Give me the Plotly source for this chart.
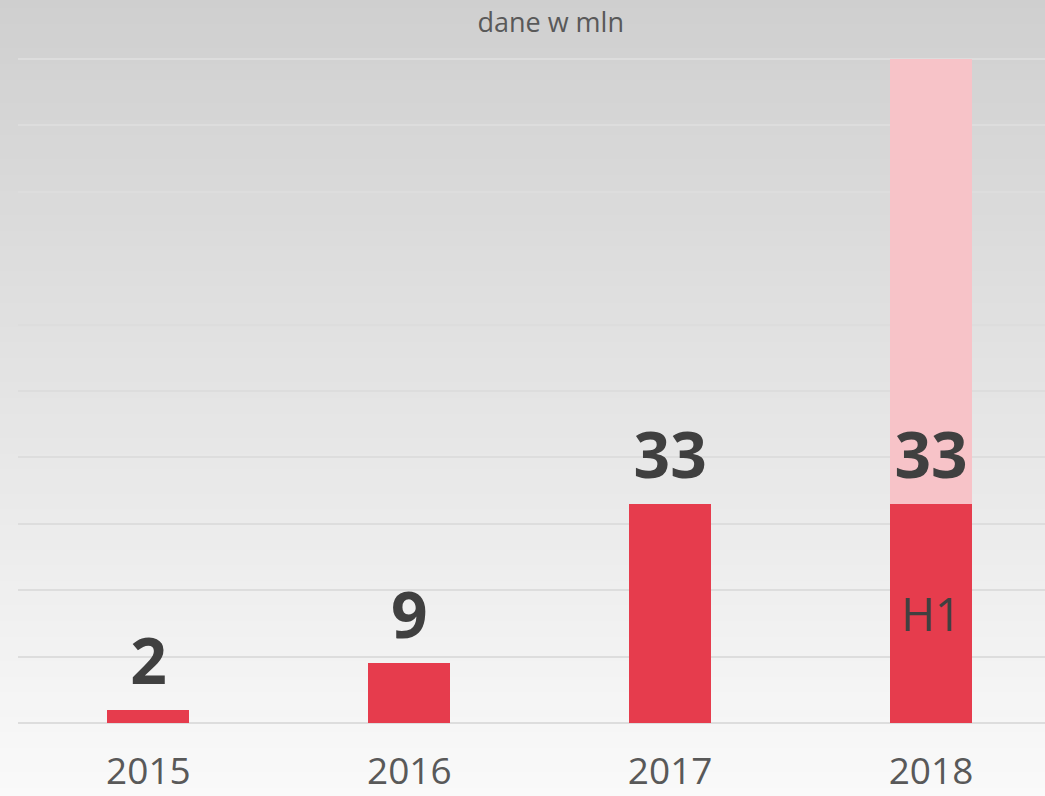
import plotly.graph_objects as go

# data (values in mln)
years = ['2015', '2016', '2017', '2018']
values = [2, 9, 33, 33]
inside_labels = ['', '', '', 'H1']
rest_years = ['2018']
rest_values = [67]

W, H = 1045, 796
M_L, M_R, M_T, M_B = 18, 0, 57, 71
plot_h = H - M_T - M_B

fig = go.Figure()

fig.add_trace(go.Bar(
    x=years, y=values,
    marker=dict(color='#E63C4D', line=dict(width=0)),
    width=0.314,
    text=inside_labels, textposition='inside', insidetextanchor='middle',
    textangle=0,
    textfont=dict(family='Open Sans', size=46, color='#404040'),
    hoverinfo='skip',
))
fig.add_trace(go.Bar(
    x=rest_years, y=rest_values,
    marker=dict(color='#F7C3C8', line=dict(width=0)),
    width=0.314,
    hoverinfo='skip',
))

# value labels above the H1 bars (invisible marker pushes text up)
fig.add_trace(go.Scatter(
    x=years, y=values,
    mode='markers+text',
    marker=dict(size=14, color='rgba(0,0,0,0)'),
    text=[f'<b>{v}</b>' for v in values],
    textposition='top center',
    textfont=dict(family='Open Sans', size=64, color='#404040'),
    cliponaxis=False,
    hoverinfo='skip',
))

# gray vertical gradient background
n = 100
top_c, bot_c = 207, 250
shapes = []
for i in range(n):
    y0_px = H * i / n
    y1_px = H * (i + 1) / n + 2
    c = round(top_c + (bot_c - top_c) * (i + 0.5) / n)
    shapes.append(dict(
        type='rect', xref='paper', yref='paper', layer='below',
        x0=-M_L / (W - M_L - M_R), x1=1.0,
        y0=1 + (M_T - y1_px) / plot_h, y1=1 + (M_T - y0_px) / plot_h,
        fillcolor=f'rgb({c},{c},{c})', line=dict(width=0),
    ))

fig.update_layout(
    width=W, height=H,
    margin=dict(l=M_L, r=M_R, t=M_T, b=M_B),
    barmode='stack',
    showlegend=False,
    paper_bgcolor='#e0e0e0',
    plot_bgcolor='rgba(0,0,0,0)',
    shapes=shapes,
    title=dict(text='dane w mln', x=0.527, xanchor='center', y=0.972, yanchor='middle',
               font=dict(family='Open Sans', size=27, color='#595959')),
    xaxis=dict(range=[-0.5, 3.437], showgrid=False, zeroline=False, showline=False,
               ticks='', ticklabelstandoff=21, automargin=False,
               tickfont=dict(family='Open Sans', size=37, color='#595959')),
    yaxis=dict(range=[-0.3, 100.3], dtick=10, showticklabels=False, zeroline=False,
               showgrid=True, gridcolor='#dddddd', gridwidth=2, showline=False,
               automargin=False),
)

fig.write_html('out.html', config={'displayModeBar': False},
               post_script="document.body.style.margin='0';")
